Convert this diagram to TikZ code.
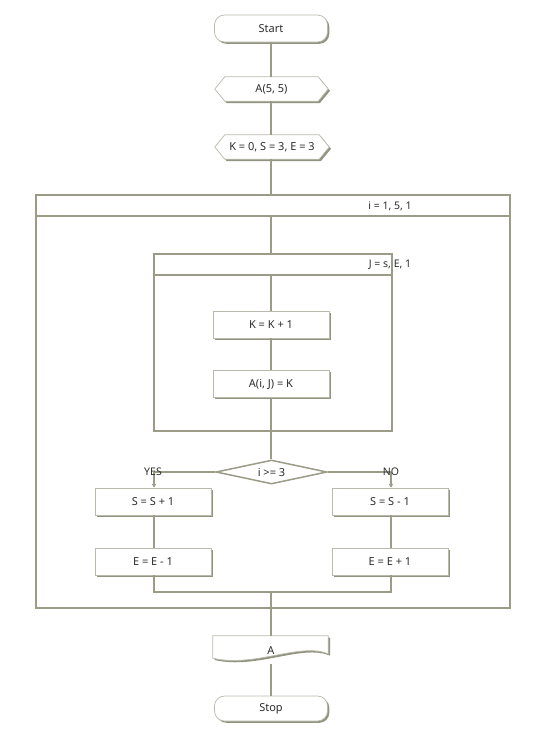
\documentclass[tikz,border=0pt]{standalone}
\usepackage{fontspec}
\setmainfont{Noto Sans}
\usetikzlibrary{shapes.geometric,shadows,arrows.meta,calc}
\definecolor{ln}{RGB}{155,155,135}
\definecolor{bd}{RGB}{185,185,172}
\definecolor{sh}{RGB}{135,135,115}
\definecolor{tx}{RGB}{45,45,45}
\begin{document}
\begin{tikzpicture}[x=1pt,y=-1pt,
  conn/.style={draw=ln, line width=2.5pt},
  frame/.style={draw=ln, line width=2.7pt},
  shad/.style={drop shadow={shadow xshift=1.8pt, shadow yshift=-1.8pt, fill=sh, opacity=0.9}},
  txt/.style={font=\fontsize{11}{13}\selectfont, text=tx},
  smalltxt/.style={font=\fontsize{10.5}{12}\selectfont, text=tx},
  procbox/.style={rectangle, draw=bd, line width=0.7pt, fill=white, shad,
    minimum width=116pt, minimum height=27pt, inner sep=0pt, txt},
  termbox/.style={rectangle, rounded corners=10pt, draw=bd, line width=0.7pt, fill=white, shad,
    minimum width=113pt, minimum height=27pt, inner sep=0pt, txt},
  hexbox/.style={rectangle, minimum width=113pt, minimum height=24pt, inner sep=0pt, txt},
  hexpath/.style={draw=bd, line width=0.7pt, fill=white, shad},
  decbox/.style={diamond, draw=ln, line width=1.5pt, fill=white,
    minimum width=111pt, minimum height=24pt, inner sep=0pt, aspect=4.6, txt},
  arr/.style={-{Stealth[length=4pt,width=4.5pt]}}
]
\useasboundingbox (0,0) rectangle (550,742);

% loop frames
\node[frame, rectangle, minimum width=474pt, minimum height=413pt, inner sep=0pt] (outer) at (273,401.5) {};
\node[frame, rectangle, minimum width=474pt, minimum height=21pt, inner sep=0pt, fill=white] (outerhdr) at (273,205.5) {};
\node[smalltxt] (ilab) at (390,206) {i = 1, 5, 1};
\node[frame, rectangle, minimum width=238pt, minimum height=177pt, inner sep=0pt] (inner) at (273,342.5) {};
\node[frame, rectangle, minimum width=238pt, minimum height=21pt, inner sep=0pt, fill=white] (innerhdr) at (273,264.5) {};
\node[smalltxt] (jlab) at (390,265) {J = s, E, 1};

% nodes
\node[termbox] (start) at (271,28.5) {Start};

\node[hexbox] (a55) at (271.5,89) {};
\path[hexpath] (a55.west) -- ($(a55.north west)+(10,0)$) -- ($(a55.north east)+(-10,0)$) -- (a55.east)
  -- ($(a55.south east)+(-10,0)$) -- ($(a55.south west)+(10,0)$) -- cycle;
\node[txt] at (a55) {A(5, 5)};

\node[hexbox, minimum width=114pt] (kse) at (272,147) {};
\path[hexpath] (kse.west) -- ($(kse.north west)+(10,0)$) -- ($(kse.north east)+(-10,0)$) -- (kse.east)
  -- ($(kse.south east)+(-10,0)$) -- ($(kse.south west)+(10,0)$) -- cycle;
\node[txt] at (kse) {K = 0, S = 3, E = 3};

\node[procbox] (kk) at (271,324.5) {K = K + 1};
\node[procbox] (aij) at (271,384) {A(i, J) = K};

\node[decbox] (dec) at (271.5,472) {i >= 3};

\node[procbox] (s1) at (153,501.5) {S = S + 1};
\node[procbox] (e1) at (153,561.5) {E = E - 1};
\node[procbox] (s2) at (390,501.5) {S = S - 1};
\node[procbox] (e2) at (390,561.5) {E = E + 1};

\coordinate (yescorner) at (154,472);
\coordinate (nocorner) at (391,472);
\coordinate (merge) at (271,592);

\node[rectangle, minimum width=115pt, minimum height=22pt, inner sep=0pt] (doc) at (270.5,647) {};
\path[draw=bd, line width=0.7pt, fill=white, shad] (doc.north west) -- (doc.north east) -- ($(doc.north east)+(0,18)$)
  .. controls (300,642) and (255,668) .. (doc.south west) -- cycle;
\node[txt] at (271,651) {A};

\node[termbox, minimum height=25pt] (stop) at (271,708.5) {Stop};

% connectors
\draw[conn] (start.south) -- (start |- a55.north);
\draw[conn] (a55.south -| start) -- (start |- kse.north);
\draw[conn] (kse.south -| start) -- (start |- outer.north);
\draw[conn] (start |- outerhdr.south) -- (start |- inner.north);
\draw[conn] (start |- innerhdr.south) -- (kk.north);
\draw[conn] (kk.south) -- (aij.north);
\draw[conn] (aij.south) -- (start |- inner.south);
\draw[conn] (start |- inner.south) -- (dec.north -| start);
\draw[conn] (dec.west) -- (yescorner);
\draw[conn, arr] (yescorner) -- (yescorner |- s1.north);
\draw[conn] (dec.east) -- (nocorner);
\draw[conn, arr] (nocorner) -- (nocorner |- s2.north);
\draw[conn] (s1.south -| yescorner) -- (e1.north -| yescorner);
\draw[conn] (s2.south -| nocorner) -- (e2.north -| nocorner);
\draw[conn] (e1.south -| yescorner) |- (merge);
\draw[conn] (e2.south -| nocorner) |- (merge);
\draw[conn] (merge) -- (start |- doc.north);
\draw[conn] ($(start |- doc.south)+(0,6)$) -- (start |- stop.north);

\node[smalltxt] (yes) at (153,472) {YES};
\node[smalltxt] (no) at (391,472) {NO};
\end{tikzpicture}
\end{document}
